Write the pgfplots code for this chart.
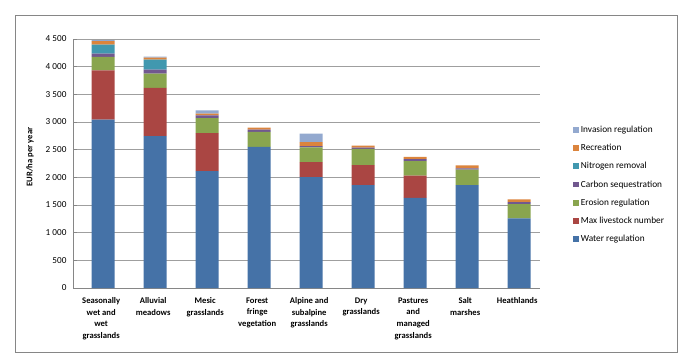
\documentclass[border=0pt]{standalone}
\usepackage{pgfplots}
\pgfplotsset{compat=1.18}
\usepackage{fontspec}
\setmainfont{Carlito}
\definecolor{cWater}{HTML}{4572A7}
\definecolor{cLive}{HTML}{AA4643}
\definecolor{cEro}{HTML}{89A54E}
\definecolor{cCarb}{HTML}{71588F}
\definecolor{cNit}{HTML}{4198AF}
\definecolor{cRec}{HTML}{DB843D}
\definecolor{cInv}{HTML}{93A9CF}
\definecolor{cFrame}{HTML}{868686}
\begin{document}
\begin{tikzpicture}[x=1pt,y=1pt]
\path[use as bounding box] (0,0) rectangle (695,361);
\draw[cFrame, line width=0.9pt] (15.7,8.3) rectangle (677.3,345.3);
\begin{axis}[
  at={(73pt,73pt)}, anchor=south west,
  scale only axis, width=467pt, height=249pt,
  ybar stacked, bar width=23pt,
  xmin=-0.58, xmax=8.4, ymin=0, ymax=4500,
  axis x line*=bottom, axis y line*=left,
  axis line style={cFrame, line width=0.8pt},
  ytick={0,500,...,4500},
  yticklabels={0,500,1 000,1 500,2 000,2 500,3 000,3 500,4 000,4 500},
  ymajorgrids, grid style={gray!75, line width=0.9pt},
  tick style={cFrame, line width=0.6pt},
  major tick length=4pt,
  y tick label style={font=\fontsize{9.2}{11}\selectfont, xshift=-3pt},
  xtick={0,...,8},
  xtick style={draw=none},
  minor xtick={0.5,1.5,...,7.5},
  minor tick length=3pt,
  xticklabels={Seasonally\\wet and\\wet\\grasslands, Alluvial\\meadows, Mesic\\grasslands, Forest\\fringe\\vegetation, Alpine and\\subalpine\\grasslands, Dry\\grasslands, Pastures\\and\\managed\\grasslands, Salt\\marshes, Heathlands},
  x tick label style={font=\bfseries\fontsize{8.6}{11.7}\selectfont, align=center, anchor=north, yshift=-6pt, xshift=-2pt},
  ylabel={EUR/ha per year},
  ylabel style={font=\bfseries\fontsize{8.6}{10}\selectfont, at={(axis description cs:-0.092,0.526)}, anchor=center},
  legend style={at={(axis description cs:1.064,0.668)}, anchor=north west, draw=none, fill=none,
    font=\fontsize{9.3}{10.5}\selectfont, row sep=6.3pt, cells={anchor=west}},
  legend image code/.code={\fill[#1] (0pt,-2.9pt) rectangle (5.8pt,2.9pt);},
  reverse legend,
]
\addplot[fill=cWater, draw=none] coordinates {(0,3045) (1,2745) (2,2110) (3,2550) (4,2005) (5,1860) (6,1630) (7,1860) (8,1260)};
\addplot[fill=cLive, draw=none] coordinates {(0,890) (1,870) (2,690) (3,0) (4,270) (5,360) (6,400) (7,0) (8,0)};
\addplot[fill=cEro, draw=none] coordinates {(0,240) (1,260) (2,270) (3,270) (4,265) (5,295) (6,265) (7,280) (8,255)};
\addplot[fill=cCarb, draw=none] coordinates {(0,60) (1,70) (2,50) (3,40) (4,25) (5,20) (6,35) (7,20) (8,35)};
\addplot[fill=cNit, draw=none] coordinates {(0,165) (1,180) (2,0) (3,0) (4,0) (5,0) (6,0) (7,0) (8,0)};
\addplot[fill=cRec, draw=none] coordinates {(0,60) (1,40) (2,30) (3,40) (4,70) (5,40) (6,40) (7,55) (8,50)};
\addplot[fill=cInv, draw=none] coordinates {(0,20) (1,15) (2,60) (3,0) (4,155) (5,0) (6,0) (7,0) (8,0)};
\legend{Water regulation, Max livestock number, Erosion regulation, Carbon sequestration, Nitrogen removal, Recreation, Invasion regulation}
\end{axis}
\end{tikzpicture}
\end{document}
